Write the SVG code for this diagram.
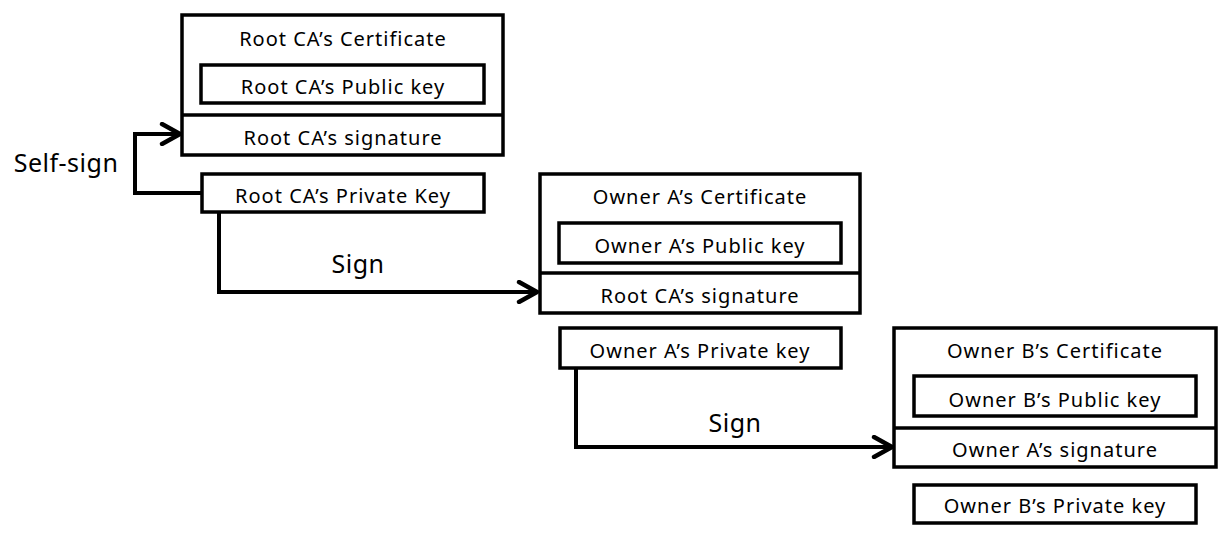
<svg xmlns="http://www.w3.org/2000/svg" width="1232" height="540" viewBox="0 0 1232 540">
<style>
.box{fill:#fff;stroke:#000;stroke-width:3.5}
.ln{fill:none;stroke:#000;stroke-width:3.5}
.t{font-family:"Noto Sans","Liberation Sans",sans-serif;font-size:20px;fill:#000;text-anchor:middle;letter-spacing:1px}
.lbl{font-family:"Noto Sans","Liberation Sans",sans-serif;font-size:25px;fill:#000;text-anchor:middle;letter-spacing:0.5px}
.conn{fill:none;stroke:#000;stroke-width:4;stroke-linejoin:miter}
</style>
<defs>
<marker id="arr" viewBox="0 0 12 12" refX="11" refY="6" markerWidth="6" markerHeight="6" markerUnits="strokeWidth" orient="auto">
<path d="M2,1 L11,6 L2,11" fill="none" stroke="#000" stroke-width="2.2" stroke-linecap="round" stroke-linejoin="round"/>
</marker>
</defs>
<g id="rootCert">
<rect class="box" x="182" y="15" width="321" height="140"/>
<line class="ln" x1="182" y1="115" x2="503" y2="115"/>
<text class="t" x="343" y="46">Root CA’s Certificate</text>
<rect class="box" x="201" y="65" width="283" height="38"/>
<text class="t" x="343" y="94">Root CA’s Public key</text>
<text class="t" x="343" y="145">Root CA’s signature</text>
</g>
<g id="rootPriv">
<rect class="box" x="202" y="174" width="282" height="38"/>
<text class="t" x="343" y="203">Root CA’s Private Key</text>
</g>
<g id="aCert">
<rect class="box" x="540" y="174" width="320" height="139"/>
<line class="ln" x1="540" y1="273" x2="860" y2="273"/>
<text class="t" x="700" y="204">Owner A’s Certificate</text>
<rect class="box" x="559" y="223" width="282" height="40"/>
<text class="t" x="700" y="253">Owner A’s Public key</text>
<text class="t" x="700" y="303">Root CA’s signature</text>
</g>
<g id="aPriv">
<rect class="box" x="560" y="328" width="281" height="40"/>
<text class="t" x="700" y="358">Owner A’s Private key</text>
</g>
<g id="bCert">
<rect class="box" x="894" y="328" width="322" height="139"/>
<line class="ln" x1="894" y1="428" x2="1216" y2="428"/>
<text class="t" x="1055" y="358">Owner B’s Certificate</text>
<rect class="box" x="914" y="376" width="282" height="40"/>
<text class="t" x="1055" y="407">Owner B’s Public key</text>
<text class="t" x="1055" y="457">Owner A’s signature</text>
</g>
<g id="bPriv">
<rect class="box" x="914" y="485" width="282" height="38"/>
<text class="t" x="1055" y="513">Owner B’s Private key</text>
</g>
<g id="connectors">
<path class="conn" d="M202,193 H135 V134 H180" marker-end="url(#arr)"/>
<text class="lbl" x="66" y="172">Self-sign</text>
<path class="conn" d="M219,212 V292 H537" marker-end="url(#arr)"/>
<text class="lbl" x="358" y="273">Sign</text>
<path class="conn" d="M576,368 V447 H892" marker-end="url(#arr)"/>
<text class="lbl" x="735" y="432">Sign</text>
</g>
</svg>
